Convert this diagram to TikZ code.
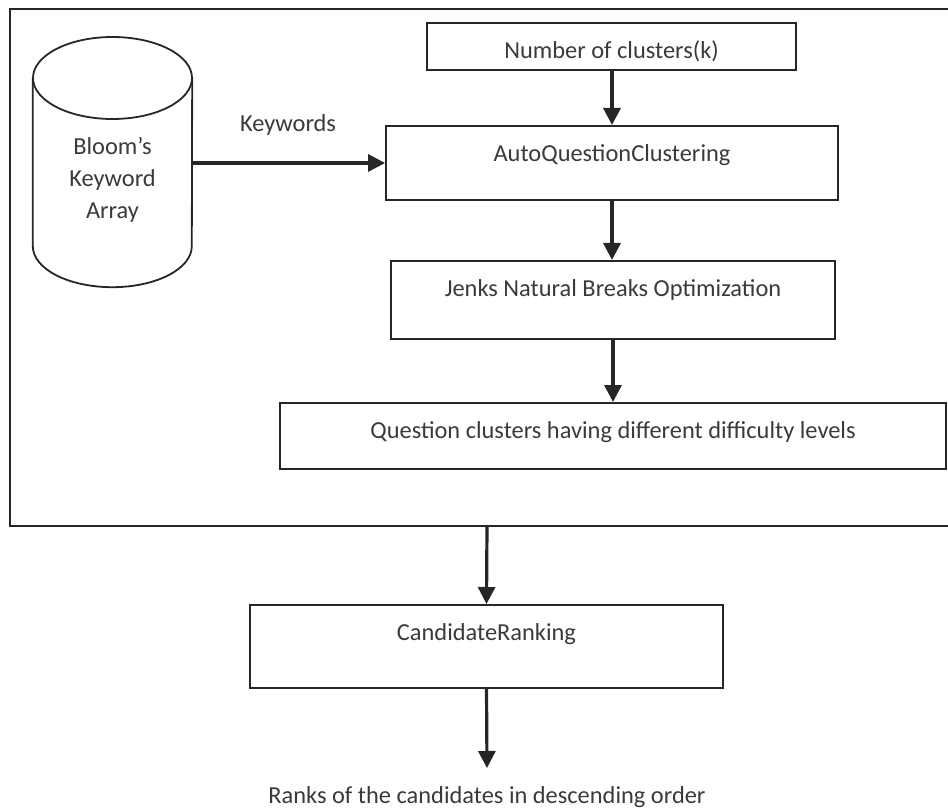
\documentclass[tikz,border=0pt]{standalone}
\usepackage{fontspec}
\setmainfont{Carlito}
\usepackage{tikz}
\usetikzlibrary{arrows.meta}

\definecolor{inkline}{HTML}{262626}
\definecolor{inktext}{HTML}{3A3A3A}

\tikzset{
    procbox/.style={draw=inkline, line width=1.8pt, inner xsep=0pt, inner ysep=0pt,
        text height=35.5pt, anchor=north, text=inktext},
    flow/.style={draw=inkline, line width=3.2pt, -{Triangle[length=17pt,width=17pt]}},
    dbline/.style={draw=inkline, line width=1.8pt}
}

\begin{document}
\begin{tikzpicture}[x=1pt, y=-1pt, font=\fontsize{24.4}{32}\selectfont, text=inktext]
    \useasboundingbox (0,0) rectangle (948,810);

    % outer frame, its right side runs off the page
    \draw[dbline] (960,9) -- (10,9) -- (10,526) -- (960,526);

    % keyword store
    \node[minimum width=159pt, minimum height=168pt, inner sep=0pt] (bloom) at (112.5,162) {};
    \draw[dbline] (112.5,78) ellipse[x radius=79.5, y radius=41];
    \draw[dbline] (bloom.north west) -- (bloom.south west)
        arc[start angle=180, end angle=0, x radius=79.5, y radius=41] -- (bloom.north east);
    \node[align=center] (bloomtxt) at (112.5,179.5) {Bloom’s\\Keyword\\Array};

    \node[procbox, minimum width=369pt, text depth=11.5pt] (num) at (611.5,22) {Number of clusters(k)};
    \node[procbox, minimum width=452pt, text depth=38.5pt] (aqc) at (612,125) {AutoQuestionClustering};
    \node[procbox, minimum width=444pt, text depth=42.5pt] (jenks) at (613,260) {Jenks Natural Breaks Optimization};
    \node[procbox, minimum width=666pt, text depth=30.5pt] (qc) at (613,402) {Question clusters having different difficulty levels};
    \node[procbox, minimum width=473pt, text depth=47.5pt] (cr) at (486.5,604) {CandidateRanking};
    \node[anchor=base] (ranks) at (487,803) {Ranks of the candidates in descending order};

    \node (kw) at (288,125) {Keywords};
    \coordinate (frameout) at (487,526);
    \coordinate (rankstip) at (487,768);

    % connectors
    \draw[flow] (bloom.east |- 0,163) -- (aqc.west |- 0,163);
    \draw[flow] (num.south -| 612,0) -- (aqc.north -| 612,0);
    \draw[flow] (aqc.south -| 612,0) -- (jenks.north -| 612,0);
    \draw[flow] (jenks.south -| 613,0) -- (qc.north -| 613,0);
    \draw[flow] (frameout) -- (cr.north);
    \draw[flow] (cr.south) -- (rankstip);
\end{tikzpicture}
\end{document}
